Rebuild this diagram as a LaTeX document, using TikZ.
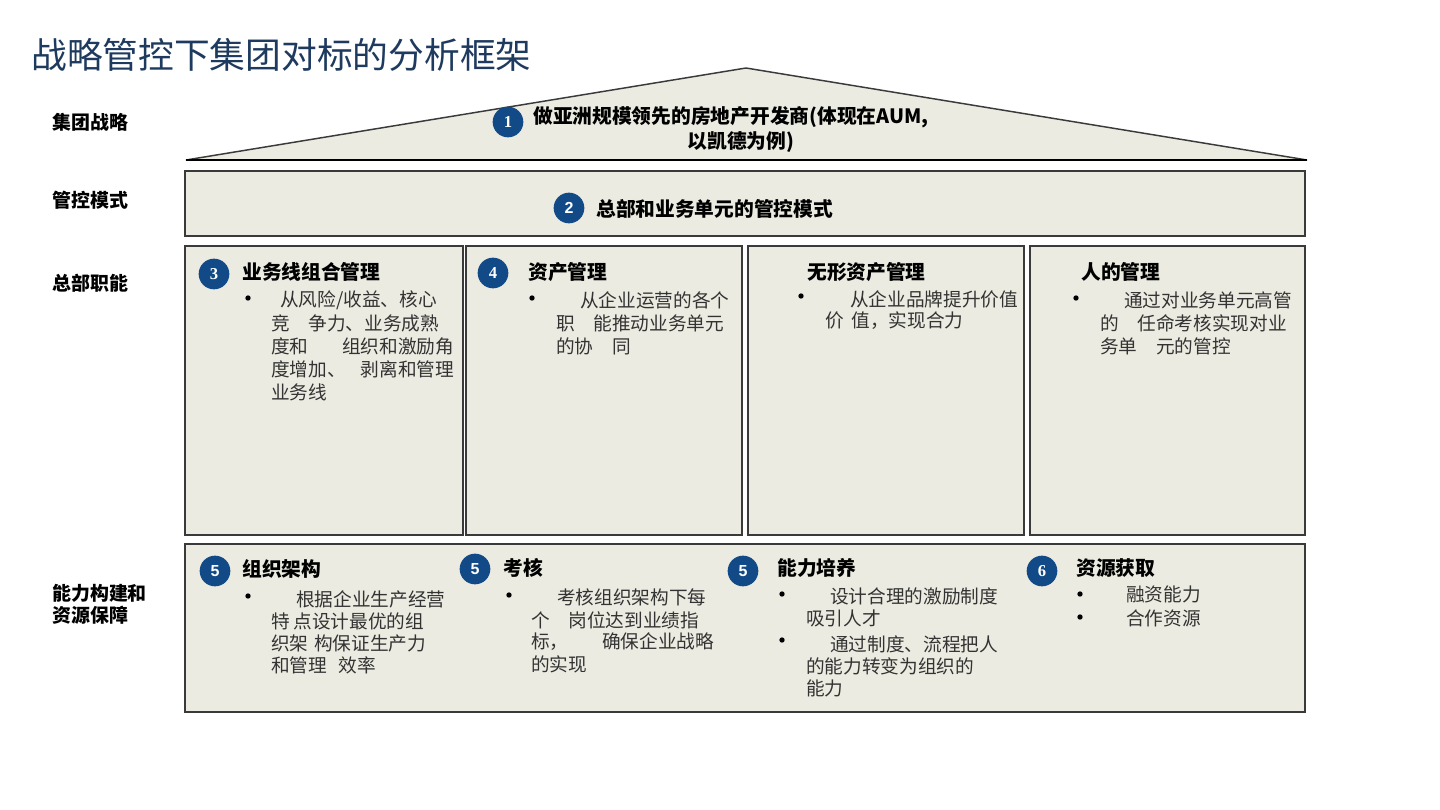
\documentclass[tikz,border=0pt]{standalone}
\usepackage{fontspec}
\setmainfont{Noto Sans CJK SC}
\newfontfamily\numserif{Liberation Serif}
\newfontfamily\numsans{Liberation Sans}
\definecolor{beige}{HTML}{ECEBE1}
\definecolor{navy}{HTML}{114A86}
\definecolor{titleblue}{HTML}{1E3A5F}
\definecolor{bodygray}{HTML}{333333}
\definecolor{frame}{HTML}{3A3A3A}
\begin{document}
\begin{tikzpicture}[x=0.75pt,y=-0.75pt,
  panel/.style={draw=frame, fill=beige, line width=1.1pt},
  num/.style={circle, fill=navy, text=white, minimum size=23pt, inner sep=0pt, font=\numserif\bfseries\fontsize{12.5}{12.5}\selectfont},
  nums/.style={num, font=\numsans\bfseries\fontsize{12}{12}\selectfont},
  head/.style={anchor=west, inner sep=0pt, font=\bfseries\fontsize{14.8}{16}\selectfont},
  body/.style={anchor=west, inner sep=0pt, text=bodygray, font=\fontsize{14}{16}\selectfont},
  bul/.style={circle, fill=black, inner sep=0pt, minimum size=4pt},
  side/.style={anchor=west, inner sep=0pt, font=\bfseries\fontsize{14.2}{16}\selectfont}
]
\useasboundingbox (0,0) rectangle (1440,810);
\fill[white] (0,0) rectangle (1440,810);

% title
\node[anchor=west, inner sep=0pt, text=titleblue, font=\fontsize{26.8}{30}\selectfont] (title) at (31,55) {战略管控下集团对标的分析框架};

% side labels
\node[side] (s1) at (52,122) {集团战略};
\node[side] (s2) at (52,200) {管控模式};
\node[side] (s3) at (52,283) {总部职能};
\node[side] (s4) at (52,593) {能力构建和};
\node[side] (s5) at (52,615) {资源保障};

% roof
\path[panel] (186,160) -- (746,68) -- (1307,160) -- cycle;
\draw[black, line width=2.2pt] (186,160) -- (1307,160);
\node[num] (n1) at (508,122) {1};
\node[head] (t1a) at (533,117) {做亚洲规模领先的房地产开发商(体现在AUM,};
\node[head, anchor=center] (t1b) at (741,142) {以凯德为例)};

% band 2
\path[panel] (185,171) rectangle (1305,236);
\node[nums] (n2) at (569,208) {2};
\node[head] (t2) at (596,209) {总部和业务单元的管控模式};

% four boxes
\path[panel] (185,246) rectangle (463,535);
\path[panel] (466,246) rectangle (742,535);
\path[panel] (748,246) rectangle (1024,535);
\path[panel] (1030,246) rectangle (1305,535);

% box 3
\node[num] (n3) at (214,274) {3};
\node[head] (h3) at (242,272) {业务线组合管理};
\node[bul] (b3) at (248,298) {};
\node[body] (l3a) at (280,300) {从风险/收益、核心};
\node[body] (l3b) at (271,323) {竞\hspace{1em}争力、业务成熟};
\node[body] (l3c) at (271,346) {度和\hspace{1.8em}组织和激励角};
\node[body] (l3d) at (271,369) {度增加、\hspace{0.8em}剥离和管理};
\node[body] (l3e) at (271,392) {业务线};

% box 4
\node[num] (n4) at (493,273) {4};
\node[head] (h4) at (528,272) {资产管理};
\node[bul] (b4) at (532,298) {};
\node[body] (l4a) at (580,300) {从企业运营的各个};
\node[body] (l4b) at (556,323) {职\hspace{1em}能推动业务单元};
\node[body] (l4c) at (556,346) {的协\hspace{1em}同};

% box 5 (intangible)
\node[head] (h5) at (807,272) {无形资产管理};
\node[bul] (b5) at (801,296) {};
\node[body] (l5a) at (850,299) {从企业品牌提升价值};
\node[body] (l5b) at (825,321) {价\hspace{0.4em}值，实现合力};

% box 6 (people)
\node[head] (h6) at (1081,272) {人的管理};
\node[bul] (b6) at (1076,298) {};
\node[body] (l6a) at (1124,300) {通过对业务单元高管};
\node[body] (l6b) at (1100,323) {的\hspace{1em}任命考核实现对业};
\node[body] (l6c) at (1100,346) {务单\hspace{1em}元的管控};

% bottom band
\path[panel] (185,544) rectangle (1305,712);

\node[nums] (n5a) at (215,571) {5};
\node[head] (h7) at (242,569) {组织架构};
\node[bul] (b7) at (248,596) {};
\node[body] (l7a) at (296,599) {根据企业生产经营};
\node[body] (l7b) at (271,621) {特\hspace{0.2em}点设计最优的组};
\node[body] (l7c) at (271,643) {织架\hspace{0.3em}构保证生产力};
\node[body] (l7d) at (271,665) {和管理\hspace{0.6em}效率};

\node[nums] (n5b) at (475,569) {5};
\node[head] (h8) at (503,568) {考核};
\node[bul] (b8) at (509,595) {};
\node[body] (l8a) at (557,597) {考核组织架构下每};
\node[body] (l8b) at (531,620) {个\hspace{1em}岗位达到业绩指};
\node[body] (l8c) at (531,642) {标，\hspace{1.8em}确保企业战略};
\node[body] (l8d) at (531,664) {的实现};

\node[nums] (n5c) at (743,571) {5};
\node[head] (h9) at (777,568) {能力培养};
\node[bul] (b9a) at (782,594) {};
\node[body] (l9a) at (830,596) {设计合理的激励制度};
\node[body] (l9b) at (806,618) {吸引人才};
\node[bul] (b9b) at (782,640) {};
\node[body] (l9c) at (830,644) {通过制度、流程把人};
\node[body] (l9d) at (806,666) {的能力转变为组织的};
\node[body] (l9e) at (806,688) {能力};

\node[num] (n6) at (1042,571) {6};
\node[head] (h10) at (1076,568) {资源获取};
\node[bul] (b10a) at (1080,594) {};
\node[body] (l10a) at (1126,594) {融资能力};
\node[bul] (b10b) at (1080,617) {};
\node[body] (l10b) at (1126,618) {合作资源};
\end{tikzpicture}
\end{document}
